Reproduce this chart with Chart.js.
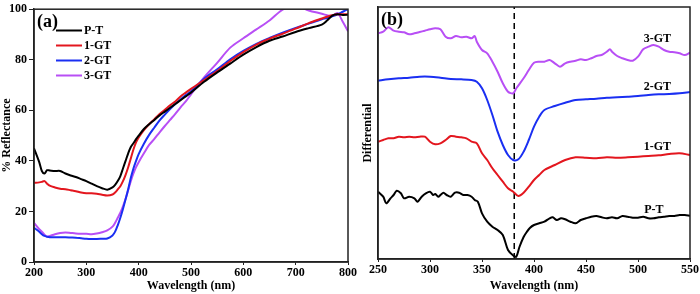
<!DOCTYPE html>
<html>
<head>
<meta charset="utf-8">
<script src="https://cdn.jsdelivr.net/npm/chart.js@4.4.0/dist/chart.umd.min.js"></script>
<style>
  body { margin: 0; background: #fff; }
  #wrap { position: relative; width: 700px; height: 294px; overflow: hidden; }
  #wrap canvas { position: absolute; top: 0; }
</style>
</head>
<body>
<div id="wrap">
  <canvas id="refl" width="362" height="294" style="left:0"></canvas>
  <canvas id="diff" width="350" height="294" style="left:350px"></canvas>
</div>
<script>
// ---- panel (a): % reflectance ----
const waveA = [200,210,215,220,225,230,240,250,260,270,280,290,300,310,320,330,340,350,355,360,365,370,375,380,385,390,395,400,410,420,430,440,450,460,470,480,490,500,525,550,575,600,625,650,675,700,725,750,760,770,780,790,800]
const reflPT = [45,39.5,36,35,36.3,36.2,36,36,35,34.2,33.6,32.8,32,31,30,29.2,28.6,29.5,30.5,32,34,37,40,43,45.5,47,48.6,50,52.6,54.5,56.2,58,59.5,61,62.5,64,65.5,67,71.3,75,78.5,82,85,87.5,89.2,91,92.5,93.9,95.5,97.5,98,97.7,97.8]
const refl1GT = [31.3,31.5,31.7,32,31,30.2,29.5,29,28.8,28.4,28,27.5,27.2,27.2,27,26.6,26.3,26.7,27.5,28.7,30,32,34.5,37.5,41,44.5,47.3,49.3,52.2,54.5,56.5,58.5,60.2,62,63.5,65.5,67,68.5,72,75.5,79.5,83,86,88.3,90.3,92.3,94.5,96.3,97,97.6,98,98,98]
const refl2GT = [13.5,12,11,10.3,10,9.8,9.8,9.8,9.8,9.7,9.6,9.4,9.2,9.1,9.1,9.2,9.3,10.5,12,14.5,17.5,21,24.8,28.8,33.3,37,40,42.7,46.8,50.3,53.2,56,58.3,60.5,62.5,64.3,66,67.5,72.5,76.2,80.2,83.5,86.3,88.6,90.7,92.6,94.3,96,96.5,97.2,98,99,100]
const refl3GT = [15.5,13,12,10.8,10,10.3,11,11.5,11.7,11.5,11.3,11.2,11.2,11,11.3,11.8,12.5,14,15.5,17.5,19.5,22,25,28.5,32,35,37.5,39.5,43,46.3,48.7,51.3,53.8,56.2,58.6,61.2,63.5,66.3,73,78.8,84.8,88.5,92,95.5,99.8,101.5,99.5,98.2,97.6,97.4,98.5,95,91.3]

// ---- panel (b): differential (arbitrary units, curves offset) ----
const wavePT = [250,255,258,262,265,268,272,275,280,285,288,292,296,300,303,305,308,310,313,316,320,324,328,332,336,340,343,346,350,355,360,365,370,375,380,383,386,390,393,396,400,405,410,415,418,422,426,430,435,440,445,450,455,460,465,470,475,480,485,490,495,500,505,510,515,520,525,530,535,540,545,550]
const diffPT = [67.3,62.3,55.7,60.7,64,68.3,65.7,60.7,62.3,60.7,57.3,62.3,65.7,67.3,64,65,62.3,64,66.3,64,62.3,66.3,66.3,64,64,62.3,59,57.3,45.7,37.3,32.3,29,24,9,3.5,2.3,12,22,27,31,34,35.7,37.3,40.7,41.7,39,40.7,39.7,37.3,35.7,39,40.7,42.3,43,41.7,40.7,41.7,40.7,43,42.3,41.3,41.3,42.3,40.7,40.7,41.7,42.3,43,43,44,44,43.3]
const wave1GT = [250,255,260,265,270,275,280,285,290,295,300,305,310,315,320,325,330,335,340,345,350,355,360,365,370,375,380,385,390,395,400,405,410,420,430,440,450,460,470,480,490,500,510,520,530,540,550]
const diff1GT = [117.3,119,120.7,120.7,122.3,121.7,122.3,121.7,122.3,122.3,117.3,114.7,115.7,119,123,122.3,121.7,120.7,117.3,115.7,105.7,99,90.7,84,77.3,70.7,67.3,63,66.3,72.3,79,84,89,94,99,101.7,101.3,100.7,101.7,101.3,101.7,102.3,103,103.7,105,105.7,104]
const wave2GT = [250,260,270,280,290,300,310,320,330,340,345,350,355,360,365,370,375,380,385,390,395,400,405,410,420,430,440,450,460,470,480,490,500,510,520,530,540,550]
const diff2GT = [178.3,179.7,180.7,181.3,182.3,182.3,181.3,180,179.7,179,177.3,170.7,159,144,127.3,114,104,99,99.7,107.3,119,132.3,142.3,149,153,156.3,159,159.7,160.3,161.3,161.7,162.3,163,164,164.7,165,165.7,167]
const wave3GT = [250,255,260,265,270,275,280,285,290,295,300,305,310,315,320,325,330,335,340,343,345,350,355,360,365,370,375,380,383,390,395,400,405,410,415,420,425,430,435,440,445,450,455,460,465,470,473,475,480,485,490,495,500,505,510,515,520,525,530,535,540,545,550]
const diff3GT = [225.7,227.3,231.7,228.3,227.3,226.7,224.7,225.7,227,228.3,229.7,230.7,229.7,222.3,220.7,223,221.7,222.3,220.7,223,217.3,209,205.7,197.3,187.3,175.7,167.3,165.7,170.7,180.7,189,196.3,197.3,197.3,199,195.7,192.3,195.7,197.3,198.3,199.7,199,200.7,203,204,207.3,209.7,207.3,203,200.7,199,198.3,202.3,209.7,212.3,214,212.3,209,207.3,206.7,205.7,204,206.3]
const peakLine = 381
// curve names written on panel (b): [name, wavelength, value]
const curveTags = [['3-GT',518.6,220],['2-GT',518.6,171.7],['1-GT',518.6,112.3],['P-T',515.3,49]]

const names = ['P-T','1-GT','2-GT','3-GT']
const colors = ['#000000','#e3161e','#1a2ff2','#b84ff5']

const serif = "'Liberation Serif', 'DejaVu Serif', serif"

function pts(xs, ys){
  return xs.map((x,i)=>({x:x, y:ys[i]}))
}

function line(label, data, color){
  return {label:label, data:data, borderColor:color, backgroundColor:color,
    borderWidth:2, pointRadius:0, tension:0.3, fill:false}
}

const framePlugin = {
  id:'frame',
  afterDraw(chart, args, opts){
    const a = chart.chartArea
    const ctx = chart.ctx
    ctx.save()
    ctx.strokeStyle = '#222'
    ctx.lineWidth = 1.5
    ctx.strokeRect(a.left, a.top, a.right-a.left, a.bottom-a.top)
    ctx.fillStyle = '#000'
    ctx.font = 'bold 18px ' + serif
    ctx.textBaseline = 'middle'
    ctx.fillText(opts.tag, a.left+3, a.top+13)
    ctx.restore()
  }
}

const legendPlugin = {
  id:'sideLegend',
  afterDraw(chart){
    const ctx = chart.ctx
    ctx.save()
    ctx.font = 'bold 12px ' + serif
    ctx.textBaseline = 'middle'
    chart.data.datasets.forEach((ds,i)=>{
      let y = 30.5 + i*15
      ctx.strokeStyle = ds.borderColor
      ctx.lineWidth = 2
      ctx.beginPath()
      ctx.moveTo(56, y)
      ctx.lineTo(82, y)
      ctx.stroke()
      ctx.fillStyle = '#000'
      ctx.fillText(ds.label, 84, y)
    })
    ctx.restore()
  }
}

const tagPlugin = {
  id:'curveTags',
  afterDatasetsDraw(chart){
    const ctx = chart.ctx
    const sx = chart.scales.x, sy = chart.scales.y
    ctx.save()
    ctx.font = 'bold 12px ' + serif
    ctx.fillStyle = '#000'
    ctx.textAlign = 'center'
    ctx.textBaseline = 'middle'
    for(let t of curveTags){
      ctx.fillText(t[0], sx.getPixelForValue(t[1]), sy.getPixelForValue(t[2]))
    }
    ctx.restore()
  }
}

function xAxis(min, max, step, h){
  return {
    type:'linear', min:min, max:max,
    ticks:{stepSize:step, color:'#000', padding:1, maxRotation:0, font:{family:serif, size:12, weight:'bold'}},
    grid:{drawOnChartArea:false, tickLength:3, color:'#222'},
    border:{color:'#222', width:1.5},
    title:{display:true, text:'Wavelength (nm)', color:'#000', padding:{top:0,bottom:1}, font:{family:serif, size:12, weight:'bold'}},
    afterFit(s){ s.height = h }
  }
}

Chart.defaults.animation = false

new Chart(document.getElementById('refl'), {
  type:'line',
  data:{datasets:[
    line(names[0], pts(waveA, reflPT), colors[0]),
    line(names[1], pts(waveA, refl1GT), colors[1]),
    line(names[2], pts(waveA, refl2GT), colors[2]),
    line(names[3], pts(waveA, refl3GT), colors[3])
  ]},
  options:{
    responsive:false, maintainAspectRatio:false,
    layout:{padding:{top:6, right:14, bottom:0, left:0}},
    plugins:{legend:{display:false}, tooltip:{enabled:false}, frame:{tag:'(a)'}},
    scales:{
      x: xAxis(200, 800, 100, 32),
      y:{
        min:0, max:100,
        ticks:{stepSize:20, color:'#000', padding:2, font:{family:serif, size:12, weight:'bold'}},
        grid:{drawOnChartArea:false, tickLength:5, color:'#222'},
        border:{color:'#222', width:1.5},
        title:{display:true, text:'% Reflectance', color:'#000', padding:{top:0,bottom:0}, font:{family:serif, size:12, weight:'bold'}},
        afterFit(s){ s.width = 34 }
      }
    }
  },
  plugins:[framePlugin, legendPlugin]
})

new Chart(document.getElementById('diff'), {
  type:'line',
  data:{datasets:[
    line(names[0], pts(wavePT, diffPT), colors[0]),
    line(names[1], pts(wave1GT, diff1GT), colors[1]),
    line(names[2], pts(wave2GT, diff2GT), colors[2]),
    line(names[3], pts(wave3GT, diff3GT), colors[3]),
    {label:'peak', data:[{x:peakLine, y:0},{x:peakLine, y:252}], borderColor:'#000',
      borderWidth:1.5, borderDash:[6,4], pointRadius:0, fill:false}
  ]},
  options:{
    responsive:false, maintainAspectRatio:false,
    layout:{padding:{top:7, right:10, bottom:0, left:0}},
    plugins:{legend:{display:false}, tooltip:{enabled:false}, frame:{tag:'(b)'}},
    scales:{
      x: xAxis(250, 550, 50, 35),
      y:{
        min:0, max:252,
        ticks:{display:false},
        grid:{display:false},
        border:{color:'#222', width:1.5},
        title:{display:true, text:'Differential', color:'#000', padding:{top:11,bottom:0}, font:{family:serif, size:12, weight:'bold'}},
        afterFit(s){ s.width = 28 }
      }
    }
  },
  plugins:[framePlugin, tagPlugin]
})
</script>
</body>
</html>
